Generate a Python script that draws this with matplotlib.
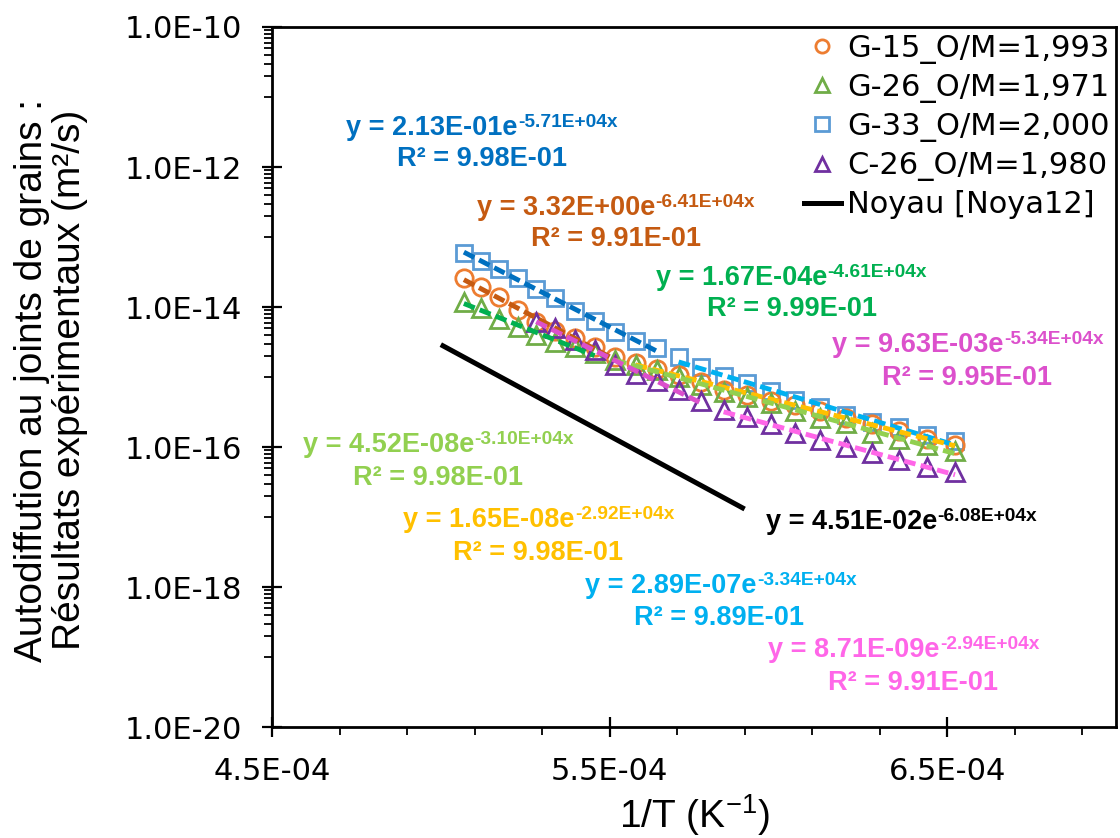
import numpy as np
import matplotlib
matplotlib.use('Agg')
import matplotlib.pyplot as plt
from matplotlib.ticker import FixedLocator, FuncFormatter, NullFormatter
from matplotlib.lines import Line2D

W, H = 1120, 838

temp_k = [1973, 1953, 1933, 1913, 1893, 1873, 1853, 1833, 1813, 1793, 1773, 1753,
          1733, 1713, 1693, 1673, 1653, 1633, 1613, 1593, 1573, 1553, 1533]
temp_k_c26 = [1893, 1873, 1853, 1833, 1813, 1793, 1773, 1753, 1733, 1713, 1693,
              1673, 1653, 1633, 1613, 1593, 1573, 1553, 1533]

# Grain boundary self-diffusion coefficients (m2/s)
g15_d = [2.6e-14, 1.9e-14, 1.4e-14, 9.1e-15, 6.1e-15, 4.5e-15, 3.6e-15, 2.7e-15,
         1.9e-15, 1.6e-15, 1.3e-15, 1.07e-15, 8.5e-16, 6.5e-16, 5.5e-16, 4.5e-16,
         4.0e-16, 3.3e-16, 2.6e-16, 2.1e-16, 1.7e-16, 1.3e-16, 1.07e-16]
g26_d = [1.18e-14, 9.7e-15, 6.7e-15, 5.2e-15, 4.0e-15, 3.2e-15, 2.7e-15, 2.2e-15,
         1.75e-15, 1.5e-15, 1.26e-15, 1.0e-15, 7.7e-16, 6.1e-16, 5.2e-16, 4.3e-16,
         3.3e-16, 2.6e-16, 2.2e-16, 1.6e-16, 1.3e-16, 1.07e-16, 8.8e-17]
g33_d = [5.9e-14, 4.5e-14, 3.5e-14, 2.6e-14, 1.8e-14, 1.34e-14, 8.8e-15, 6.3e-15,
         4.4e-15, 3.3e-15, 2.6e-15, 1.9e-15, 1.4e-15, 1.03e-15, 8.2e-16, 6.3e-16,
         4.7e-16, 3.7e-16, 2.9e-16, 2.3e-16, 1.9e-16, 1.5e-16, 1.2e-16]
c26_d = [6.1e-15, 5.0e-15, 3.4e-15, 2.4e-15, 1.5e-15, 1.1e-15, 8.8e-16, 6.5e-16,
         4.5e-16, 3.4e-16, 2.7e-16, 2.1e-16, 1.6e-16, 1.26e-16, 1.0e-16, 8.2e-17,
         6.5e-17, 5.2e-17, 4.4e-17]

# Noyau [Noya12] reference line, end points
noyau_x = [5.0e-4, 5.9e-4]
noyau_d = [2.9e-15, 1.3e-17]

labels = ['G-15_O/M=1,993', 'G-26_O/M=1,971', 'G-33_O/M=2,000', 'C-26_O/M=1,980',
          'Noyau [Noya12]']

# exponential trendlines: (series, first index, last index, colour)
fits = [('g33', 0, 10, '#0070C0'), ('g33', 11, 22, '#00B0F0'),
        ('g15', 0, 8, '#C55A11'), ('g15', 9, 22, '#FFC000'),
        ('g26', 0, 7, '#00B050'), ('g26', 8, 22, '#92D050'),
        ('c26', 0, 8, '#DC50CC'), ('c26', 9, 18, '#FF66E8')]

# equation labels: (main, exponent, R2, colour, x, baseline, R2 x, R2 baseline) in px
equations = [
    ('y = 2.13E-01e', '-5.71E+04x', '9.98E-01', '#0070C0', 346, 135, 397, 166),
    ('y = 3.32E+00e', '-6.41E+04x', '9.91E-01', '#C55A11', 477, 215, 531, 246),
    ('y = 1.67E-04e', '-4.61E+04x', '9.99E-01', '#00B050', 656, 285, 707, 316),
    ('y = 9.63E-03e', '-5.34E+04x', '9.95E-01', '#DC50CC', 832, 352, 882, 385),
    ('y = 4.52E-08e', '-3.10E+04x', '9.98E-01', '#92D050', 303, 452, 353, 485),
    ('y = 1.65E-08e', '-2.92E+04x', '9.98E-01', '#FFC000', 403, 527, 453, 560),
    ('y = 2.89E-07e', '-3.34E+04x', '9.89E-01', '#00B0F0', 585, 593, 634, 625),
    ('y = 8.71E-09e', '-2.94E+04x', '9.91E-01', '#FF66E8', 768, 657, 828, 690),
    ('y = 4.51E-02e', '-6.08E+04x', None, 'black', 766, 529, None, None),
]

x_all = 1.0 / np.array(temp_k)
x_c26 = 1.0 / np.array(temp_k_c26)
series = {'g15': (x_all, np.array(g15_d)), 'g26': (x_all, np.array(g26_d)),
          'g33': (x_all, np.array(g33_d)), 'c26': (x_c26, np.array(c26_d))}

fig = plt.figure(figsize=(W / 100, H / 100), dpi=100)
ax = fig.add_axes([272 / W, 1 - 727 / H, (1116 - 272) / W, 700 / H])
ax.set_yscale('log')

mk = dict(ls='none', mfc='none', mew=2)
ax.plot(x_all, g33_d, marker='s', ms=12, mec='#5B9BD5', zorder=2, **mk)
ax.plot(x_all, g15_d, marker='o', ms=12.5, mec='#ED7D31', zorder=2.1, **mk)
ax.plot(x_all, g26_d, marker='^', ms=12.5, mec='#70AD47', zorder=2.2, **mk)
ax.plot(x_c26, c26_d, marker='^', ms=12.5, mec='#7030A0', zorder=2.3, **mk)
ax.plot(noyau_x, noyau_d, color='black', lw=3.6, solid_capstyle='butt', zorder=3)

for name, i0, i1, color in fits:
    xs, ds = series[name]
    xs, ds = xs[i0:i1 + 1], ds[i0:i1 + 1]
    b, a = np.polyfit(xs, np.log(ds), 1)
    xf = np.linspace(xs.min(), xs.max(), 50)
    ax.plot(xf, np.exp(a + b * xf), color=color, lw=3.5, dashes=(2.4, 1.1),
            dash_capstyle='butt', zorder=4)

ax.set_xlim(4.5e-4, 7.0e-4)
ax.set_ylim(1e-20, 1e-10)
ax.xaxis.set_major_locator(FixedLocator([4.5e-4, 5.5e-4, 6.5e-4]))
ax.xaxis.set_minor_locator(FixedLocator(np.arange(4.7e-4, 6.95e-4, 2e-5)))
ax.yaxis.set_major_locator(FixedLocator([10.0 ** k for k in range(-20, -9, 2)]))
ax.yaxis.set_minor_locator(FixedLocator(
    [m * 10.0 ** k for k in (-19, -17, -15, -13, -11) for m in range(1, 10)]))
fmt = FuncFormatter(lambda v, p: '%.1E' % v)
ax.xaxis.set_major_formatter(fmt)
ax.yaxis.set_major_formatter(fmt)
ax.yaxis.set_minor_formatter(NullFormatter())
ax.tick_params(which='major', direction='inout', length=15, width=1.6,
               labelsize=22, pad=14)
ax.tick_params(which='minor', direction='out', length=5.5, width=1.3)
for s in ax.spines.values():
    s.set_linewidth(2)

handles = [Line2D([], [], marker='o', ms=9.5, mfc='none', mew=2, mec='#ED7D31', ls='none'),
           Line2D([], [], marker='^', ms=10, mfc='none', mew=2, mec='#70AD47', ls='none'),
           Line2D([], [], marker='s', ms=9.5, mfc='none', mew=2, mec='#5B9BD5', ls='none'),
           Line2D([], [], marker='^', ms=10, mfc='none', mew=2, mec='#7030A0', ls='none'),
           Line2D([], [], color='black', lw=3.6)]
ax.legend(handles, labels, loc='upper right', bbox_to_anchor=(1.0, 1.0),
          frameon=False, fontsize=22, handlelength=1.2, handletextpad=0.2,
          labelspacing=0.3, borderpad=0.1, borderaxespad=0.12, numpoints=1)

def fpos(x, y):
    return x / W, 1 - y / H

for main, sup, r2, color, x, y, rx, ry in equations:
    t = fig.text(*fpos(x, y), main, color=color, fontsize=19.5, fontweight='bold',
                 family='Liberation Sans', ha='left', va='baseline')
    ax.annotate(sup, xy=(1, 0), xycoords=t, xytext=(0.3, 9.9),
                textcoords='offset points', color=color, fontsize=13.8,
                fontweight='bold', family='Liberation Sans', ha='left', va='baseline')
    if r2:
        fig.text(*fpos(rx, ry), 'R² = ' + r2, color=color, fontsize=19.5,
                 fontweight='bold', family='Liberation Sans', ha='left', va='baseline')

plt.rcParams['mathtext.fontset'] = 'custom'
plt.rcParams['mathtext.rm'] = 'Liberation Sans'
fig.text(*fpos(694, 828), '1/T (K$^{\\mathrm{-1}}$)', fontsize=28,
         family='Liberation Sans', ha='center', va='baseline')
fig.text(*fpos(51, 380), 'Autodiffution au joints de grains :\nRésultats expérimentaux (m²/s)',
         fontsize=28, family='Liberation Sans', rotation=90, ha='center', va='center',
         multialignment='center', linespacing=1.09)

fig.savefig('out.png', dpi=100)
